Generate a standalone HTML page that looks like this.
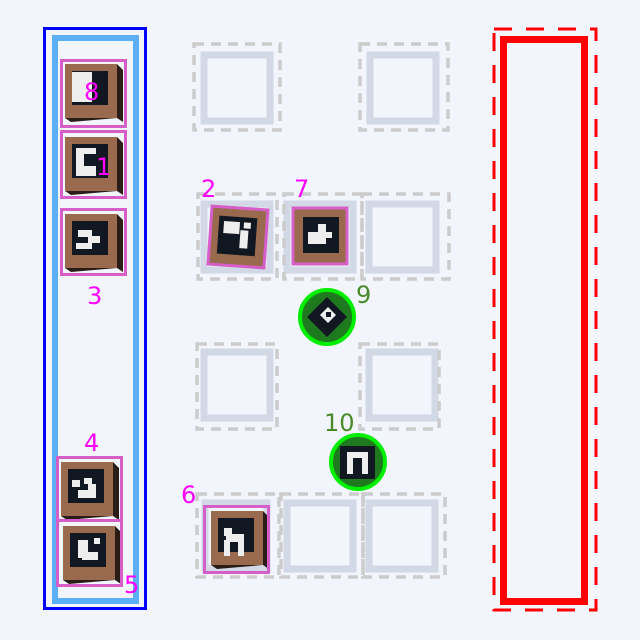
<!DOCTYPE html>
<html><head><meta charset="utf-8"><style>
html,body{margin:0;padding:0;background:#f2f5fb;}
svg{display:block}
text{font-family:"DejaVu Sans","Liberation Sans",sans-serif;font-size:24px}
</style></head><body>
<svg width="640" height="640" viewBox="0 0 640 640" xmlns="http://www.w3.org/2000/svg">
<rect width="640" height="640" fill="#f2f5fb"/>
<defs>
<g id="cube">
  <polygon points="5,4 57,4 63,10 63,62 57,58 11,62 5,58" fill="#2a1c16"/>
  <rect x="5" y="4" width="52" height="54" fill="#9a6a4e"/>
  <rect x="12" y="11" width="36" height="34" fill="#121821"/>
</g>
</defs>
<!-- slots -->
<g fill="none" stroke="#d3d8e6" stroke-width="7">
  <rect x="204" y="55" width="66" height="66"/>
  <rect x="370" y="55" width="66" height="66"/>
  <rect x="204" y="204" width="66" height="66"/>
  <rect x="287" y="204" width="66" height="66"/>
  <rect x="369" y="204" width="67" height="66"/>
  <rect x="204" y="352" width="66" height="66"/>
  <rect x="369" y="352" width="66" height="66"/>
  <rect x="205" y="503" width="62" height="66"/>
  <rect x="287" y="503" width="66" height="66"/>
  <rect x="369" y="503" width="66" height="66"/>
</g>
<g fill="none" stroke="#cccccc" stroke-width="3.5" stroke-dasharray="10,7">
  <rect x="194" y="44" width="86" height="86"/>
  <rect x="360" y="44" width="88" height="86"/>
  <rect x="198" y="194" width="79" height="85"/>
  <rect x="284" y="194" width="78" height="85"/>
  <rect x="362" y="194" width="87" height="85"/>
  <rect x="197" y="344" width="80" height="85"/>
  <rect x="360" y="344" width="79" height="85"/>
  <rect x="197" y="494" width="82" height="83"/>
  <rect x="281" y="494" width="82" height="83"/>
  <rect x="363" y="494" width="82" height="83"/>
</g>
<!-- blue container -->
<rect x="44.5" y="28.5" width="101" height="580" fill="none" stroke="#0000ff" stroke-width="3"/>
<rect x="55" y="38" width="81" height="563" fill="none" stroke="#5aaff5" stroke-width="6"/>
<!-- red -->
<rect x="494" y="29" width="102" height="581" fill="none" stroke="#ff0000" stroke-width="3" stroke-dasharray="18,14"/>
<rect x="503.5" y="39.5" width="81" height="562" fill="none" stroke="#ff0000" stroke-width="7"/>
<!-- cubes -->
<use href="#cube" x="60" y="60"/>
<rect x="72" y="72" width="20" height="30" fill="#eee"/>
<use href="#cube" x="60" y="133"/>
<rect x="76" y="148" width="20" height="28" fill="#eee"/><rect x="84" y="154" width="12" height="12" fill="#121821"/>
<use href="#cube" x="60" y="210"/>
<rect x="78" y="230" width="14" height="7" fill="#eee"/><rect x="88" y="236" width="12" height="7" fill="#eee"/><rect x="76" y="243" width="16" height="6" fill="#eee"/>
<use href="#cube" x="56" y="458"/>
<rect x="72" y="480" width="8" height="7" fill="#eee"/><rect x="84" y="478" width="8" height="6" fill="#eee"/><rect x="88" y="484" width="8" height="14" fill="#eee"/><rect x="78" y="490" width="12" height="8" fill="#eee"/>
<use href="#cube" x="58" y="522"/>
<rect x="78" y="540" width="10" height="18" fill="#eee"/><rect x="94" y="538" width="6" height="6" fill="#eee"/><rect x="82" y="552" width="16" height="8" fill="#eee"/>
<use href="#cube" x="206" y="507"/>
<rect x="224" y="528" width="8" height="8" fill="#eee"/><rect x="226" y="534" width="18" height="8" fill="#eee"/><rect x="238" y="538" width="6" height="18" fill="#eee"/><rect x="224" y="540" width="6" height="16" fill="#eee"/>
<!-- flat 2 and 7 -->
<g transform="rotate(4 238 237)">
  <rect x="210" y="208" width="56" height="58" fill="#9a6a4e" stroke="#d65ec8" stroke-width="3"/>
  <rect x="218" y="217" width="38" height="38" fill="#121821"/>
  <rect x="223" y="222" width="16" height="12" fill="#eee"/><rect x="240" y="230" width="8" height="18" fill="#eee"/><rect x="243" y="222" width="7" height="6" fill="#eee"/>
</g>
<rect x="293" y="208" width="54" height="56" fill="#9a6a4e" stroke="#d65ec8" stroke-width="3"/>
<rect x="303" y="217" width="36" height="36" fill="#121821"/>
<rect x="308" y="232" width="18" height="12" fill="#eee"/><rect x="318" y="224" width="8" height="20" fill="#eee"/><rect x="324" y="232" width="8" height="6" fill="#eee"/>
<!-- pink boxes -->
<g fill="none" stroke="#d65ec8" stroke-width="3">
  <rect x="61.5" y="60.5" width="64" height="66"/>
  <rect x="61.5" y="131.5" width="64" height="66"/>
  <rect x="61.5" y="209.5" width="64" height="65"/>
  <rect x="57.5" y="457.5" width="64" height="63"/>
  <rect x="57.5" y="520.5" width="64" height="65"/>
  <rect x="204.5" y="506.5" width="64" height="66"/>
</g>
<!-- circles -->
<circle cx="327" cy="317" r="27" fill="#1f7a1f" stroke="#00ee00" stroke-width="4"/>
<polygon points="327,297 347,317 327,337 307,317" fill="#121821"/>
<polygon points="320,315 328,307 336,315 328,323" fill="#eee"/><rect x="326" y="312" width="5" height="5" fill="#121821"/>
<circle cx="358" cy="462" r="27" fill="#1f7a1f" stroke="#00ee00" stroke-width="4"/>
<rect x="340" y="446" width="35" height="33" fill="#121821"/>
<path d="M347 474 V452 H368 V474 H362 V458 H353 V474 Z" fill="#eee"/>
<!-- labels -->
<g fill="#ff00ff">
  <text x="84" y="100">8</text>
  <text x="96" y="175">1</text>
  <text x="87" y="304">3</text>
  <text x="84" y="451">4</text>
  <text x="124" y="593">5</text>
  <text x="181" y="503">6</text>
  <text x="201" y="197">2</text>
  <text x="294" y="197">7</text>
</g>
<g fill="#4a8a2a">
  <text x="356" y="303">9</text>
  <text x="324" y="431">10</text>
</g>
</svg>
</body></html>
